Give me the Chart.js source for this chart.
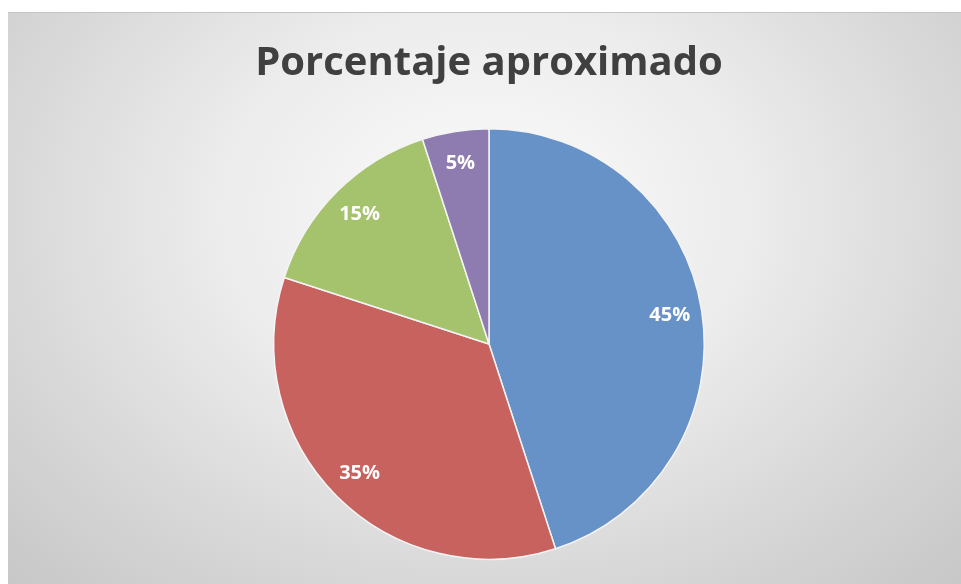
<!DOCTYPE html>
<html>
<head>
<meta charset="utf-8">
<script src="https://cdn.jsdelivr.net/npm/chart.js@4.4.0/dist/chart.umd.min.js"></script>
<style>
    html, body { margin: 0; padding: 0; background: #ffffff; }
    #frame {
        position: absolute;
        left: 8px; top: 12px;
        width: 953px; height: 572px;
        border-top: 1px solid #c4c4c4;
        background: radial-gradient(ellipse 70% 90% at 50% 35%, #fbfbfb 0%, #ececec 40%, #d6d6d6 75%, #c8c8c8 100%);
    }
    #box {
        position: absolute;
        left: 17px; top: 13px;
        width: 944px; height: 571px;
    }
</style>
</head>
<body>
<div id="frame"></div>
<div id="box"><canvas id="pieChart"></canvas></div>
<script>
var labels = ['A', 'B', 'C', 'D'];
var percentages = [45, 35, 15, 5];
var sliceColors = ['#6792c8', '#c7625f', '#a5c26c', '#8e7bb0'];

// draws the "45%" style labels inside each slice
var sliceLabels = {
    id: 'sliceLabels',
    afterDatasetsDraw: function(chart) {
        var ctx = chart.ctx;
        var meta = chart.getDatasetMeta(0);
        ctx.save();
        ctx.fillStyle = '#ffffff';
        ctx.font = 'bold 20px "Open Sans", sans-serif';
        ctx.textAlign = 'center';
        ctx.textBaseline = 'middle';
        meta.data.forEach(function(arc, i) {
            var mid = (arc.startAngle + arc.endAngle) / 2;
            var r = arc.outerRadius * 0.85;
            ctx.fillText(percentages[i] + '%', arc.x + Math.cos(mid) * r, arc.y + Math.sin(mid) * r);
        });
        ctx.restore();
    }
};

window.onload = function() {
    new Chart(document.getElementById('pieChart'), {
        type: 'pie',
        data: {
            labels: labels,
            datasets: [{
                data: percentages,
                backgroundColor: sliceColors,
                borderColor: '#f4f4f4',
                borderWidth: 1.5
            }]
        },
        options: {
            responsive: true,
            maintainAspectRatio: false,
            animation: false,
            layout: { padding: { top: 0, bottom: 24, left: 0, right: 0 } },
            plugins: {
                legend: { display: false },
                tooltip: { enabled: false },
                title: {
                    display: true,
                    text: 'Porcentaje aproximado',
                    color: '#404040',
                    font: { family: '"Open Sans", sans-serif', size: 40, weight: 'bold', lineHeight: 1.2 },
                    padding: { top: 27, bottom: 40 }
                }
            }
        },
        plugins: [sliceLabels]
    });
};
</script>
</body>
</html>
